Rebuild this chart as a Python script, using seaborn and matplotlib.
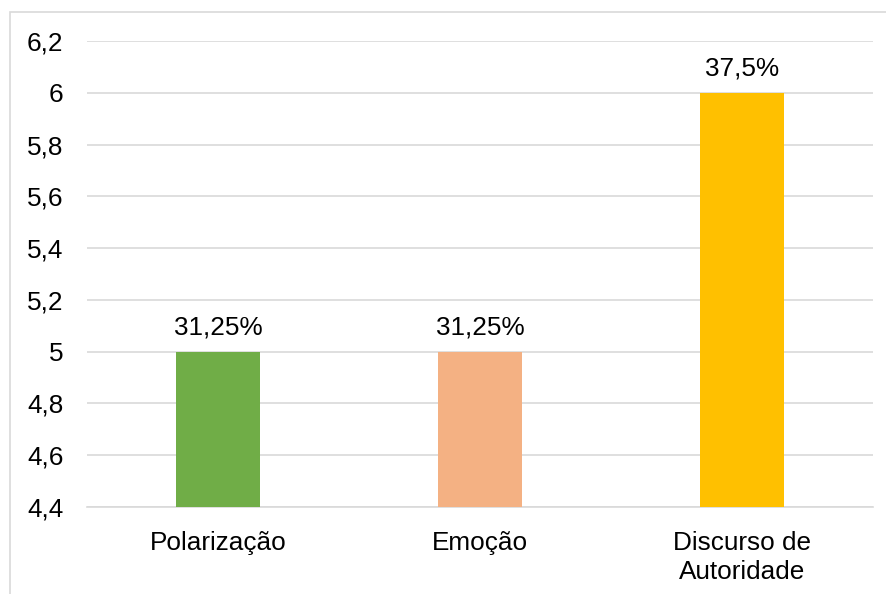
import matplotlib
matplotlib.use("Agg")
import matplotlib.pyplot as plt
import seaborn as sns
import pandas as pd
from matplotlib.patches import Rectangle

categories = ["Polarização", "Emoção", "Discurso de\nAutoridade"]
values = [5, 5, 6]
pct_labels = ["31,25%", "31,25%", "37,5%"]
colors = ["#70AD47", "#F4B183", "#FFC000"]
yticks = [4.4, 4.6, 4.8, 5.0, 5.2, 5.4, 5.6, 5.8, 6.0, 6.2]

sns.set_theme(style="white")
plt.rcParams["font.family"] = ["Liberation Sans", "DejaVu Sans"]

df = pd.DataFrame({"cat": categories, "val": values})

FS = 18.8

fig = plt.figure(figsize=(8.86, 5.94), dpi=100)
ax = fig.add_axes([87/886, 1-507/594, (873-87)/886, (507-41)/594])

sns.barplot(data=df, x="cat", y="val", hue="cat", palette=colors, legend=False,
            width=0.32, ax=ax, zorder=3, saturation=1, linewidth=0)

ax.set_ylim(4.4, 6.2)
ax.set_yticks(yticks)
ax.set_yticklabels([f"{t:.1f}".replace(".", ",").replace(",0", "") for t in yticks])
ax.yaxis.grid(True, color="#D9D9D9", linewidth=1.2, zorder=0)
ax.set_axisbelow(True)
for s in ["top", "right", "left"]:
    ax.spines[s].set_visible(False)
ax.spines["bottom"].set_color("#D9D9D9")
ax.spines["bottom"].set_linewidth(1.2)
ax.tick_params(axis="y", length=0, pad=17, labelsize=FS, labelcolor="#000000")
ax.tick_params(axis="x", length=0, pad=17, labelsize=FS, labelcolor="#000000")
for t in ax.get_xticklabels():
    t.set_linespacing(1.27)
ax.set_xlabel("")
ax.set_ylabel("")
ax.set_xlim(-0.5, 2.5)

for i, (v, lab) in enumerate(zip(values, pct_labels)):
    ax.annotate(lab, (i, v), xytext=(0, 12.2), textcoords="offset points",
                ha="center", va="baseline", fontsize=FS, color="#000000")

fig.patches.append(Rectangle((10/886, -0.1), 1.0, 1 - 12/594 + 0.1,
                             transform=fig.transFigure, fill=False,
                             edgecolor="#D9D9D9", linewidth=1.2))

fig.savefig("out.png", dpi=100, facecolor="white")
